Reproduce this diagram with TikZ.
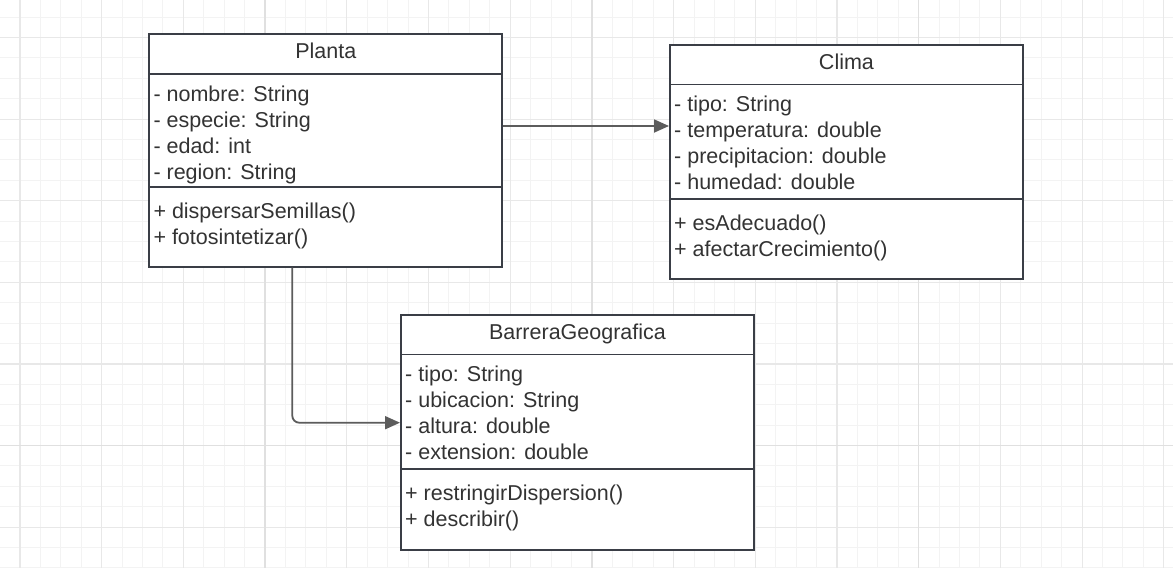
\documentclass[tikz,border=0pt]{standalone}
\usepackage{fontspec}
\setmainfont{Liberation Sans}
\usetikzlibrary{arrows.meta}
\definecolor{gridminor}{HTML}{F3F3F3}
\definecolor{gridmajor}{HTML}{E8E8E8}
\definecolor{gridsuper}{HTML}{E0E0E0}
\definecolor{boxline}{HTML}{3A3E46}
\definecolor{txt}{HTML}{333333}
\definecolor{conncol}{HTML}{5C5C5C}
\tikzset{
  classbox/.style={draw=boxline, line width=1.9pt, fill=white, rectangle, inner sep=0pt, anchor=north west, minimum width=353pt},
  divider/.style={draw=boxline, line width=1.7pt},
  member/.style={anchor=base west, inner sep=0pt, text=txt, font=\fontsize{21.5}{26}\selectfont},
  title/.style={anchor=base, inner sep=0pt, text=txt, font=\fontsize{21.5}{26}\selectfont},
  conn/.style={draw=conncol, line width=1.8pt, -{Triangle[length=15pt,width=13pt]}}
}
\begin{document}
\begin{tikzpicture}[x=1pt,y=-1pt]
\useasboundingbox (0,0) rectangle (1173,568);
\fill[white] (0,0) rectangle (1173,568);
% grid
\foreach \i in {0,...,58} \draw[gridminor, line width=1pt] ({-0.43+\i*20.425},0) -- ({-0.43+\i*20.425},568);
\foreach \i in {0,...,28} \draw[gridminor, line width=1pt] (0,{-3.3+\i*20.4}) -- (1173,{-3.3+\i*20.4});
\foreach \i in {0,...,14} \draw[gridmajor, line width=1.2pt] ({20+\i*81.7},0) -- ({20+\i*81.7},568);
\foreach \i in {0,...,6} \draw[gridmajor, line width=1.2pt] (0,{37.5+\i*81.6}) -- (1173,{37.5+\i*81.6});
\foreach \x in {265.1,591.9,918.7} \draw[gridsuper, line width=1.5pt] (\x,0) -- (\x,568);
\draw[gridsuper, line width=1.5pt] (0,445.4) -- (1173,445.4);

% Planta
\node[classbox, minimum height=232.4pt] (Planta) at (148.3,33.3) {};
\draw[divider] ([yshift=-40.7pt]Planta.north west) -- ([yshift=-40.7pt]Planta.north east);
\draw[divider] ([yshift=-154pt]Planta.north west) -- ([yshift=-154pt]Planta.north east);
\node[title] (PlantaT) at ([yshift=-25pt]Planta.north) {Planta};
\node[member] (P1) at ([xshift=5pt,yshift=-67.7pt]Planta.north west) {- nombre: String};
\node[member] (P2) at ([xshift=5pt,yshift=-93.7pt]Planta.north west) {- especie: String};
\node[member] (P3) at ([xshift=5pt,yshift=-119.7pt]Planta.north west) {- edad: int};
\node[member] (P4) at ([xshift=5pt,yshift=-145.7pt]Planta.north west) {- region: String};
\node[member] (P5) at ([xshift=5pt,yshift=-185.5pt]Planta.north west) {+ dispersarSemillas()};
\node[member] (P6) at ([xshift=5pt,yshift=-211.5pt]Planta.north west) {+ fotosintetizar()};

% Clima
\node[classbox, minimum height=234pt] (Clima) at (669,44) {};
\draw[divider] ([yshift=-40.5pt]Clima.north west) -- ([yshift=-40.5pt]Clima.north east);
\draw[divider] ([yshift=-155.3pt]Clima.north west) -- ([yshift=-155.3pt]Clima.north east);
\node[title] (ClimaT) at ([yshift=-25pt]Clima.north) {Clima};
\node[member] (C1) at ([xshift=5pt,yshift=-67.5pt]Clima.north west) {- tipo: String};
\node[member] (C2) at ([xshift=5pt,yshift=-93.5pt]Clima.north west) {- temperatura: double};
\node[member] (C3) at ([xshift=5pt,yshift=-119.5pt]Clima.north west) {- precipitacion: double};
\node[member] (C4) at ([xshift=5pt,yshift=-145.5pt]Clima.north west) {- humedad: double};
\node[member] (C5) at ([xshift=5pt,yshift=-186.5pt]Clima.north west) {+ esAdecuado()};
\node[member] (C6) at ([xshift=5pt,yshift=-212.5pt]Clima.north west) {+ afectarCrecimiento()};

% BarreraGeografica
\node[classbox, minimum height=235pt] (Barrera) at (400,314) {};
\draw[divider] ([yshift=-40.5pt]Barrera.north west) -- ([yshift=-40.5pt]Barrera.north east);
\draw[divider] ([yshift=-155.3pt]Barrera.north west) -- ([yshift=-155.3pt]Barrera.north east);
\node[title] (BarreraT) at ([yshift=-25pt]Barrera.north) {BarreraGeografica};
\node[member] (B1) at ([xshift=5pt,yshift=-67.5pt]Barrera.north west) {- tipo: String};
\node[member] (B2) at ([xshift=5pt,yshift=-93.5pt]Barrera.north west) {- ubicacion: String};
\node[member] (B3) at ([xshift=5pt,yshift=-119.5pt]Barrera.north west) {- altura: double};
\node[member] (B4) at ([xshift=5pt,yshift=-145.5pt]Barrera.north west) {- extension: double};
\node[member] (B5) at ([xshift=5pt,yshift=-186.5pt]Barrera.north west) {+ restringirDispersion()};
\node[member] (B6) at ([xshift=5pt,yshift=-212.5pt]Barrera.north west) {+ describir()};

% connectors
\draw[conn] (Planta.east |- 0,126) -- (Clima.west |- 0,126);
\draw[conn, rounded corners=7pt] (Planta.south -| 292.3,0) |- (Barrera.west |- 0,422.7);
\end{tikzpicture}
\end{document}
